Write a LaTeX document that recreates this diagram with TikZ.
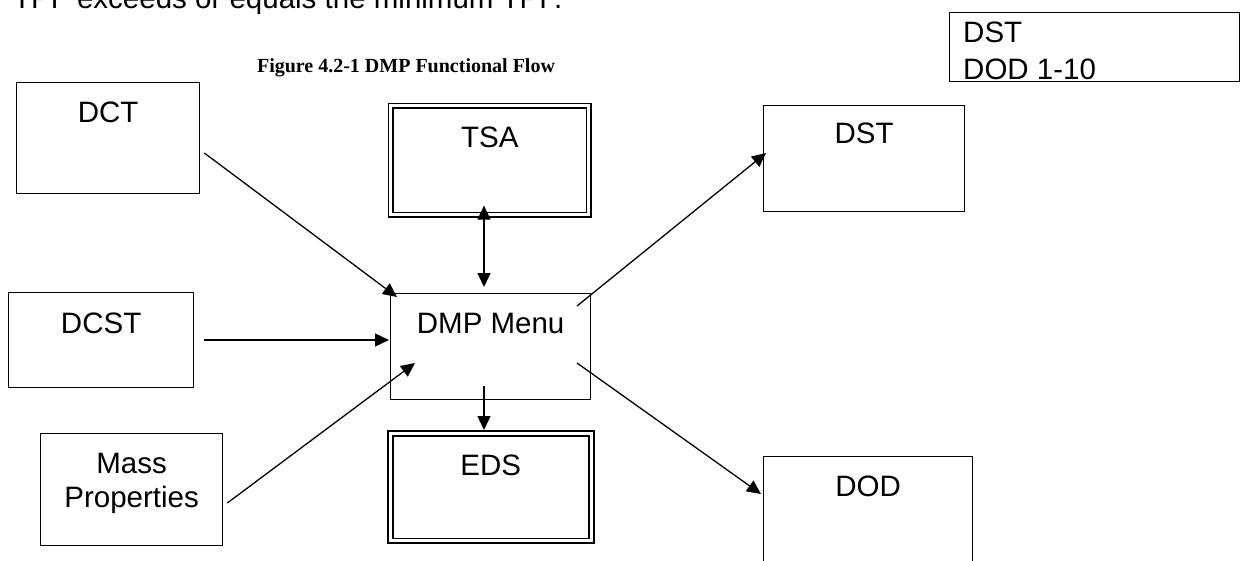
\documentclass[tikz,border=0pt]{standalone}
\usepackage{fontspec}
\setmainfont{Liberation Sans}
\newfontfamily\capfont{Liberation Serif}
\usetikzlibrary{arrows.meta,calc}
\tikzset{
  txt/.style={font=\fontsize{29.5}{34}\selectfont},
  box/.style={draw=black, line width=1.3pt, fill=none, inner xsep=0pt, inner ysep=0pt, anchor=north west, align=center, txt},
  dbox/.style={box, line width=1.6pt, double=white, double distance=3.2pt},
  arr/.style={draw=black, line width=1.3pt, -{Triangle[length=14pt,width=13pt]}},
  darr/.style={draw=black, line width=1.3pt, {Triangle[length=14pt,width=13pt]}-{Triangle[length=14pt,width=13pt]}},
}
\begin{document}
\begin{tikzpicture}[x=1pt,y=-1pt]
\useasboundingbox (0,0) rectangle (1246,561);
\clip (0,0) rectangle (1246,561);
\fill[white] (0,0) rectangle (1246,561);
% cut-off text at the top
\node[txt, anchor=base west, inner sep=0pt] (toptext) at (13,9) {TPF exceeds or equals the minimum TPF.};
% caption
\node[font=\capfont\bfseries\fontsize{20}{24}\selectfont, anchor=base, inner sep=0pt] (caption) at (406,73) {Figure 4.2-1 DMP Functional Flow};
% top right box
\node[draw=black, line width=1.3pt, anchor=north west, minimum width=290pt, minimum height=69pt, inner sep=0pt] (legend) at (949,12) {};
\node[txt, anchor=base west, inner sep=0pt, align=left] (legendtxt) at ($(legend.north west)+(14,68)$) {DST\\[3pt]DOD 1-10};
% boxes
\node[box, minimum width=183pt, text height=40pt, text depth=71pt] (dct) at (16,82) {DCT};
\node[box, minimum width=185pt, text height=41pt, text depth=54pt] (dcst) at (8,292) {DCST};
\node[box, minimum width=182pt, minimum height=112pt] (mass) at (40,433) {};
\node[txt, anchor=base, inner sep=0pt, align=center] (masstxt) at ($(mass.north)+(0,74)$) {Mass\\Properties};
\node[dbox, minimum width=198pt, text height=42pt, text depth=67pt] (tsa) at (390,105) {TSA};
\node[box, minimum width=200pt, text height=40pt, text depth=66pt] (dmp) at (390,293) {DMP Menu};
\node[dbox, minimum width=201pt, text height=42.5pt, text depth=65pt] (eds) at (389.5,432.5) {EDS};
\node[box, minimum width=201pt, text height=38pt, text depth=68pt] (dst) at (763,105) {DST};
\node[box, minimum width=209pt, text height=40pt, text depth=80pt] (dod) at (763,456) {DOD};
% connectors
\draw[arr] ($(dct.north east)+(4,71)$) -- ($(dmp.north west)+(7,4)$);
\draw[arr] ($(dcst.north east)+(10,48)$) -- ($(dmp.north west)+(-1,47)$);
\draw[arr] ($(mass.north east)+(4,70)$) -- ($(dmp.north west)+(25,70)$);
\draw[darr] ($(tsa.south west)+(94,-10)$) -- ($(dmp.north west)+(94,-6)$);
\draw[arr] ($(dmp.north west)+(94,93)$) -- ($(eds.north west)+(94.5,-2.5)$);
\draw[arr] ($(dmp.north west)+(187,13)$) -- ($(dst.north west)+(3,48)$);
\draw[arr] ($(dmp.north west)+(187,70)$) -- ($(dod.north west)+(-2,38)$);
\end{tikzpicture}
\end{document}
